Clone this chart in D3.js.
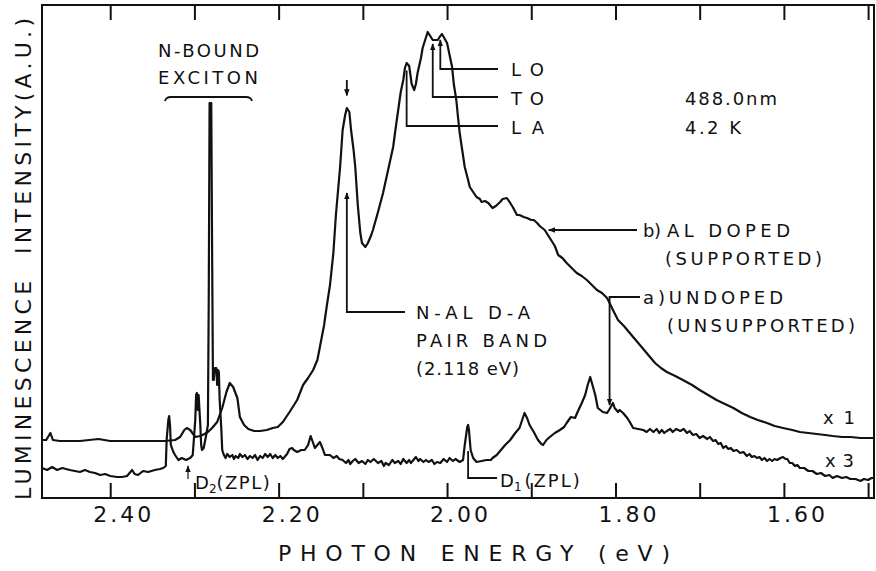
<!DOCTYPE html>
<html>
<head>
<meta charset="utf-8">
<script src="https://cdn.jsdelivr.net/npm/d3@7"></script>
<style>
html,body{margin:0;padding:0;background:#fff;}
svg text{font-family:"DejaVu Sans",sans-serif;fill:#111;}
</style>
</head>
<body>
<svg id="chart" width="876" height="571"></svg>
<script>
// ---- data (photon energy in eV, luminescence intensity in arbitrary units) ----
const energyB = [2.481,2.476,2.471,2.468,2.460,2.436,2.414,2.400,2.376,2.353,2.335,2.323,2.317,2.312,2.309,2.305,2.299,2.293,2.288,2.284,2.279,2.273,2.267,2.262,2.258,2.254,2.249,2.246,2.241,2.236,2.229,2.222,2.214,2.207,2.201,2.195,2.187,2.178,2.171,2.165,2.159,2.154,2.151,2.146,2.143,2.139,2.135,2.132,2.127,2.124,2.121,2.119,2.116,2.114,2.111,2.109,2.106,2.103,2.101,2.097,2.094,2.090,2.088,2.082,2.076,2.070,2.064,2.061,2.058,2.055,2.052,2.050,2.048,2.045,2.044,2.042,2.039,2.037,2.035,2.031,2.029,2.026,2.023,2.020,2.017,2.013,2.011,2.008,2.006,2.004,2.000,1.997,1.994,1.992,1.989,1.987,1.985,1.982,1.979,1.975,1.973,1.969,1.965,1.961,1.959,1.955,1.951,1.948,1.946,1.942,1.937,1.934,1.929,1.925,1.922,1.917,1.914,1.909,1.905,1.900,1.897,1.893,1.890,1.884,1.878,1.872,1.868,1.863,1.858,1.852,1.846,1.840,1.834,1.828,1.822,1.816,1.810,1.807,1.803,1.797,1.790,1.783,1.777,1.771,1.763,1.753,1.746,1.739,1.729,1.720,1.709,1.700,1.690,1.680,1.670,1.660,1.650,1.640,1.631,1.620,1.611,1.601,1.590,1.581,1.571,1.561,1.551,1.542,1.531,1.521,1.509,1.500,1.493];
const intensityB = [11.6,11.6,13.0,11.6,11.4,11.4,11.8,11.4,11.4,11.4,11.4,11.6,12.2,13.6,14.0,13.6,12.2,12.4,12.8,13.2,14.0,15.2,18.0,21.2,23.0,22.2,20.0,16.2,14.6,13.8,13.4,13.4,13.6,14.0,14.2,15.2,17.2,19.6,22.6,24.0,25.6,27.6,30.2,34.6,38.2,42.6,49.0,56.6,66.2,73.6,76.6,78.0,77.2,73.6,69.6,66.2,58.6,53.0,51.0,50.2,51.0,52.6,53.6,57.2,61.0,65.6,70.2,74.0,77.6,81.2,83.6,86.0,87.0,86.4,85.2,82.8,81.6,82.8,85.0,88.0,90.0,91.6,93.2,92.4,91.6,91.6,91.6,92.4,92.8,92.2,91.0,88.6,86.2,82.8,79.6,76.2,73.0,69.6,66.2,63.6,62.2,61.2,60.2,59.8,59.2,59.4,59.0,58.4,58.0,58.4,59.2,59.8,60.0,59.0,58.2,56.6,56.6,56.2,56.0,55.6,55.6,55.0,54.4,53.6,52.0,50.4,48.6,48.0,47.0,46.0,45.0,44.4,43.6,42.6,41.6,41.0,40.0,39.0,37.6,35.6,34.4,33.0,31.8,30.6,29.0,27.0,26.0,25.2,24.4,23.6,22.6,21.6,20.6,19.6,18.8,18.0,17.0,16.2,15.6,15.0,14.4,14.0,13.6,13.2,13.0,12.8,12.6,12.4,12.2,12.2,12.0,12.0,12.0];

const energyA = [2.481,2.475,2.469,2.463,2.457,2.448,2.442,2.436,2.430,2.424,2.418,2.412,2.406,2.400,2.392,2.386,2.380,2.376,2.374,2.371,2.367,2.361,2.355,2.347,2.341,2.337,2.334,2.333,2.331,2.330,2.329,2.328,2.325,2.323,2.319,2.315,2.310,2.305,2.302,2.299,2.298,2.297,2.296,2.295,2.293,2.292,2.291,2.289,2.286,2.284,2.283,2.282,2.280,2.279,2.278,2.277,2.276,2.274,2.273,2.272,2.271,2.270,2.268,2.267,
  2.265,2.263,2.261,2.258,2.255,2.253,2.251,2.248,2.246,2.243,2.240,2.237,2.234,2.231,2.228,2.225,2.222,2.219,2.216,2.213,2.210,2.207,2.204,2.201,2.198,2.195,
  2.190,2.187,2.184,2.182,2.178,2.173,2.169,2.165,2.162,2.159,2.157,2.153,2.151,2.148,2.145,
  2.139,2.135,2.131,2.128,2.124,2.120,2.117,2.115,2.112,2.109,2.105,2.101,2.097,2.094,2.091,2.087,2.082,2.078,2.075,2.073,2.069,2.065,2.062,2.058,2.055,2.052,2.048,2.045,2.043,2.040,2.037,2.034,2.032,2.028,2.025,2.022,2.018,2.015,2.012,2.008,2.004,2.000,1.997,1.993,1.990,1.985,1.981,
  1.979,1.976,1.975,1.974,1.972,1.969,1.965,1.959,1.953,1.948,1.946,1.941,1.936,1.931,1.925,1.919,1.914,1.910,1.908,1.905,1.902,1.897,1.892,1.888,1.886,1.882,1.878,1.872,1.866,1.861,1.858,1.853,1.848,1.845,1.840,1.836,1.833,1.830,1.828,1.824,1.821,1.818,1.815,1.810,1.807,1.803,1.801,1.797,1.795,1.791,1.786,1.783,1.779,1.773,
  1.767,1.763,1.759,1.755,1.751,1.748,1.745,1.742,1.739,1.735,1.732,1.728,1.723,1.719,1.715,1.712,1.708,1.704,1.700,1.696,1.691,1.688,1.684,1.681,1.678,1.675,1.672,1.669,1.666,1.663,1.660,1.656,1.652,1.648,1.644,1.641,1.638,1.635,1.632,1.629,1.626,1.623,1.620,1.617,1.614,1.611,1.608,1.604,1.601,1.598,1.596,1.593,1.590,1.587,1.584,1.581,1.576,1.571,1.566,1.561,1.556,1.551,1.546,1.542,1.537,1.531,1.526,1.521,1.515,1.509,1.505,1.500,1.496,1.493];
const intensityA = [6.0,5.6,6.2,5.6,6.0,5.6,5.4,5.2,5.6,5.2,5.0,4.6,4.8,4.4,4.2,4.2,4.4,5.2,5.6,4.8,4.6,5.4,5.2,5.6,5.8,6.0,6.4,11.6,15.6,16.4,14.6,10.6,9.2,8.6,7.6,8.0,7.6,8.0,8.6,15.6,20.6,21.0,17.6,20.6,14.6,10.6,9.6,10.0,12.6,14.6,39.6,79.0,79.0,49.6,23.6,23.6,26.0,26.0,22.6,25.6,25.2,19.6,13.6,9.6,
  8.6,8.0,8.8,8.2,8.6,7.8,8.4,8.0,8.8,8.2,8.6,7.8,8.4,8.0,8.6,7.6,8.4,8.0,8.8,8.2,8.8,8.0,8.6,8.0,8.4,7.8,
  8.8,9.8,10.0,9.6,9.2,9.6,9.6,10.6,12.4,11.0,10.0,10.8,11.2,10.0,8.6,
  8.6,8.0,8.4,7.8,7.6,7.0,7.6,6.8,7.4,7.8,7.0,7.4,6.8,7.6,7.2,7.8,7.0,7.4,6.4,7.0,6.6,7.6,7.0,7.4,6.8,7.8,7.0,7.6,7.0,7.6,8.2,7.4,7.8,7.2,7.6,7.2,7.6,6.8,7.2,7.0,7.8,7.2,8.0,7.4,7.8,7.2,7.6,
  10.6,14.2,14.6,13.6,9.6,8.0,7.2,7.4,7.6,7.6,8.0,8.6,9.6,10.6,11.6,13.0,14.0,16.0,17.0,16.0,14.6,13.2,11.6,10.8,10.6,11.6,12.2,13.0,13.6,14.2,15.0,16.2,16.0,17.2,19.0,20.6,22.6,24.2,23.0,20.6,18.0,17.6,17.2,17.0,17.8,19.0,18.0,17.2,17.6,17.0,16.0,15.2,14.0,13.8,
  13.6,13.2,13.8,13.2,13.8,13.0,13.6,13.0,13.4,13.8,13.2,13.8,13.4,13.8,13.0,13.4,12.6,12.8,12.0,12.4,11.8,12.2,11.4,11.6,10.8,11.0,10.0,10.4,9.8,10.0,9.4,9.6,9.0,9.2,8.4,8.8,8.2,8.4,8.0,8.2,7.6,8.0,7.4,7.8,7.4,7.8,7.6,8.0,8.2,7.8,7.8,7.0,7.0,6.4,6.6,6.0,6.0,5.4,5.4,4.8,5.0,4.4,4.6,4.0,4.4,4.0,4.2,3.8,3.8,3.4,3.8,3.6,4.0,4.0];

const tickValues = [2.4,2.3,2.2,2.1,2.0,1.9,1.8,1.7,1.6,1.5];
const tickLabels = ["2.40","","2.20","","2.00","","1.80","","1.60",""];

// ---- layout ----
const L = 42, R = 874, T = 5, B = 498;
const svg = d3.select("#chart");
const x = d3.scaleLinear().domain([2.481, 1.493]).range([L, R]);
const y = d3.scaleLinear().domain([0, 98.6]).range([B, T]);

const defs = svg.append("defs");
defs.append("marker").attr("id","ah").attr("viewBox","0 0 10 10")
  .attr("refX",9).attr("refY",5).attr("markerWidth",7).attr("markerHeight",7)
  .attr("markerUnits","userSpaceOnUse").attr("orient","auto")
  .append("path").attr("d","M0,1 L10,5 L0,9 Z").attr("fill","#111");

// axes (ticks inward, top and bottom)
const axB = svg.append("g").attr("transform",`translate(0,${B})`)
  .call(d3.axisBottom(x).tickValues(tickValues).tickSize(-15).tickFormat((d,i)=>tickLabels[i]).tickPadding(20));
const axT = svg.append("g").attr("transform",`translate(0,${T})`)
  .call(d3.axisTop(x).tickValues(tickValues).tickSize(-15).tickFormat(""));
[axB, axT].forEach(g=>{
  g.select(".domain").remove();
  g.selectAll(".tick line").attr("stroke","#111").attr("stroke-width",2);
});
axB.selectAll(".tick text").attr("font-size",22).attr("letter-spacing","3px")
  .attr("font-family","DejaVu Sans").attr("fill","#111").attr("dx",13).attr("dy","0.2em");

// frame
svg.append("rect").attr("x",L).attr("y",T).attr("width",R-L).attr("height",B-T)
  .attr("fill","none").attr("stroke","#111").attr("stroke-width",2);

// curves
const line = d3.line().x(d=>x(d[0])).y(d=>y(d[1]));
const dataB = energyB.map((e,i)=>[e,intensityB[i]]);
const dataA = energyA.map((e,i)=>[e,intensityA[i]]);
svg.append("path").datum(dataB).attr("d",line).attr("fill","none")
  .attr("stroke","#111").attr("stroke-width",2.2).attr("stroke-linejoin","round");
svg.append("path").datum(dataA).attr("d",line).attr("fill","none")
  .attr("stroke","#111").attr("stroke-width",2.2).attr("stroke-linejoin","round");

// axis titles
svg.append("text").attr("x",278).attr("y",561).attr("font-size",22)
  .attr("textLength",392).attr("lengthAdjust","spacing").text("PHOTON ENERGY (eV)");
svg.append("text").attr("transform","translate(31,500) rotate(-90)").attr("font-size",22)
  .attr("textLength",482).attr("lengthAdjust","spacing").text("LUMINESCENCE\u00a0\u00a0INTENSITY(A.U.)");

// annotations
const ann = svg.append("g").attr("stroke","#111").attr("stroke-width",1.8).attr("fill","none");
function txt(s, xx, yy, len){
  const t = svg.append("text").attr("x",xx).attr("y",yy).attr("font-size",18).text(s);
  if(len) t.attr("textLength",len).attr("lengthAdjust","spacing");
  return t;
}
// N-bound exciton
txt("N-BOUND", 158, 57, 101);
txt("EXCITON", 158, 84, 100);
ann.append("path").attr("d","M165,101 Q166,97 171,97 L246,97 Q251,97 252,101");

// N-Al D-A pair band arrows
const ePk = 2.119;
ann.append("line").attr("x1",x(ePk)).attr("x2",x(ePk)).attr("y1",80).attr("y2",y(80.5)).attr("marker-end","url(#ah)");
ann.append("polyline").attr("points",`405,312 ${x(ePk)},312 ${x(ePk)},193`).attr("marker-end","url(#ah)");
txt("N-AL D-A", 416, 319, 114);
txt("PAIR BAND", 416, 347, 131);
txt("(2.118 eV)", 416, 375, 103);

// phonon replicas
ann.append("polyline").attr("points",`${x(2.048)},${y(85.5)} ${x(2.048)},126 498,126`);
ann.append("polyline").attr("points",`498,97 ${x(2.017)},97 ${x(2.017)},${y(91.6)+4}`).attr("marker-end","url(#ah)");
ann.append("polyline").attr("points",`498,69 ${x(2.008)},69 ${x(2.008)},${y(92.4)+4}`).attr("marker-end","url(#ah)");
txt("LO", 511, 76, 33);
txt("TO", 511, 105, 33);
txt("LA", 511, 134, 33);
txt("488.0nm", 685, 105, 92);
txt("4.2 K", 685, 134, 56);

// curve labels
ann.append("line").attr("x1",637).attr("x2",x(1.884)+4).attr("y1",230).attr("y2",230).attr("marker-end","url(#ah)");
txt("b)", 643, 237, 18);
txt("AL DOPED", 667, 237, 123);
txt("(SUPPORTED)", 665, 265, 157);
ann.append("polyline").attr("points",`640,297 ${x(1.807)},297 ${x(1.807)},${y(18.6)}`).attr("marker-end","url(#ah)");
txt("a)UNDOPED", 643, 304, 140);
txt("(UNSUPPORTED)", 667, 332, 188);
txt("x 1", 823, 424, 32);
txt("x 3", 825, 467, 29);

// zero-phonon lines
ann.append("polyline").attr("points",`${x(1.975)},${y(9.4)} ${x(1.975)},478 497,478`);
const d1 = svg.append("text").attr("x",500).attr("y",487).attr("font-size",18);
d1.append("tspan").text("D");
d1.append("tspan").attr("font-size",12).attr("dy",4).text("1");
d1.append("tspan").attr("dy",-4).attr("dx",3).attr("letter-spacing","2px").text("(ZPL)");

ann.append("line").attr("x1",188).attr("x2",188).attr("y1",479).attr("y2",466).attr("stroke-width",1.2).attr("marker-end","url(#ah)");
const d2 = svg.append("text").attr("x",195).attr("y",489).attr("font-size",18);
d2.append("tspan").text("D");
d2.append("tspan").attr("font-size",12).attr("dy",4).text("2");
d2.append("tspan").attr("dy",-4).attr("letter-spacing","1.5px").text("(ZPL)");
</script>
</body>
</html>
